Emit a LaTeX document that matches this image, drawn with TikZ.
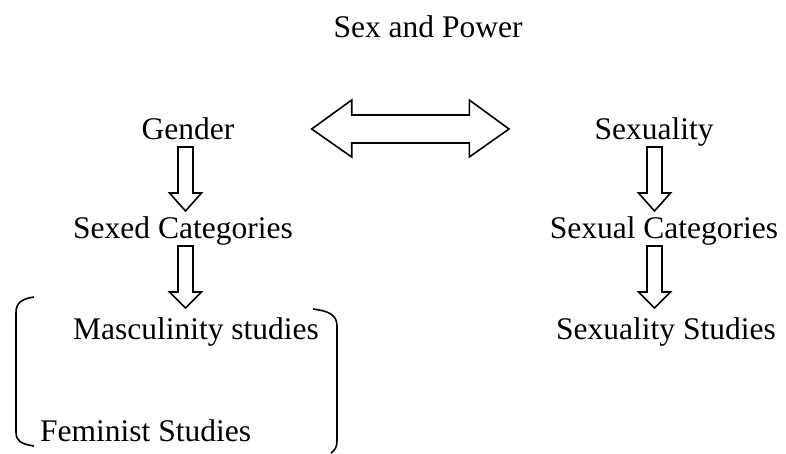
\documentclass[tikz,border=0pt]{standalone}
\usepackage{fontspec}
\setmainfont{Liberation Serif}
\usetikzlibrary{positioning}

\begin{document}
\begin{tikzpicture}[
    x=1pt, y=-1pt,
    label/.style={inner sep=0pt, anchor=base, font=\fontsize{31.5}{36}\selectfont},
    blockarrow/.style={draw=black, line width=1.6pt, line join=miter, fill=white},
    bracket/.style={draw=black, line width=1.6pt}
]
    \useasboundingbox (0,0) rectangle (786,453);

    % Title
    \node[label] (title) at (428,37) {Sex and Power};

    % Left column
    \node[label] (gender) at (188,139) {Gender};
    \node[label] (sexed) at (183,238) {Sexed Categories};
    \node[label] (masc) at (196,339) {Masculinity studies};
    \node[label, anchor=base west] (fem) at (40,441) {Feminist Studies};

    % Right column
    \node[label] (sexuality) at (654,139) {Sexuality};
    \node[label] (sexual) at (664,238) {Sexual Categories};
    \node[label] (sexstud) at (666,339) {Sexuality Studies};

    % Double arrow between Gender and Sexuality
    \draw[blockarrow] (311.7,129) -- (351.7,100) -- (351.7,115) -- (469.3,115)
        -- (469.3,100) -- (509,129) -- (469.3,157) -- (469.3,143)
        -- (351.7,143) -- (351.7,157) -- cycle;

    % Down arrows, left column
    \draw[blockarrow] (178,147) -- (193,147) -- (193,193) -- (201.5,193)
        -- (185.5,211) -- (169.5,193) -- (178,193) -- cycle;
    \draw[blockarrow] (178,246) -- (193,246) -- (193,292) -- (201.5,292)
        -- (185.5,308) -- (169.5,292) -- (178,292) -- cycle;

    % Down arrows, right column
    \draw[blockarrow] (647,147) -- (662,147) -- (662,193) -- (670.5,193)
        -- (654.5,211) -- (638.5,193) -- (647,193) -- cycle;
    \draw[blockarrow] (647,246) -- (662,246) -- (662,292) -- (670.5,292)
        -- (654.5,308) -- (638.5,292) -- (647,292) -- cycle;

    % Bracket round the studies
    \draw[bracket] (34,297) .. controls (21,299) and (16,303) .. (16,313)
        -- (16,432) .. controls (16,441) and (21,444) .. (34,446);
    \draw[bracket] (313,309) .. controls (329,311) and (337,315) .. (337,326)
        -- (337,441) .. controls (337,447) and (335,450) .. (331,453);
\end{tikzpicture}
\end{document}
